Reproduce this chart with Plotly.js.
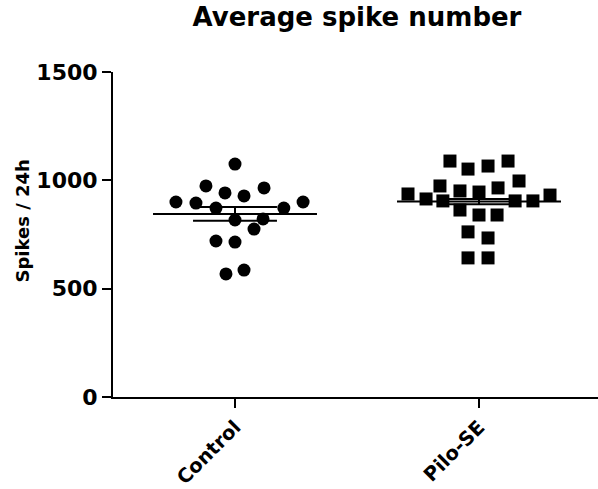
<!DOCTYPE html>
<html><head><meta charset="utf-8">
<script src="https://cdn.plot.ly/plotly-3.0.1.min.js"></script>
<style>html,body{margin:0;padding:0;background:#fff}</style>
</head><body><div id="chart" style="width:598px;height:489px"></div>
<script>
const categories = ["Control", "Pilo-SE"];
const controlValues = [1075, 974, 965, 942, 928, 900, 895, 900, 872, 872, 817, 822, 775, 720, 715, 568, 586];
const controlJitter = [0, -0.119, 0.119, -0.041, 0.037, -0.242, -0.16, 0.279, -0.078, 0.2, 0, 0.115, 0.078, -0.078, 0, -0.037, 0.037];
const piloValues = [1089, 1052, 1066, 1089, 997, 974, 951, 946, 965, 937, 914, 905, 905, 905, 932, 863, 840, 840, 762, 734, 642, 642];
const piloJitter = [-0.119, -0.045, 0.037, 0.119, 0.164, -0.16, -0.078, 0, 0.078, -0.291, -0.217, -0.148, 0.148, 0.221, 0.291, -0.078, 0, 0.074, -0.045, 0.037, -0.045, 0.037];
const meanValues = [845, 902];
const semValues = [32, 12];
const yTicks = [0, 500, 1000, 1500];
const yTitle = "Spikes / 24h";
const chartTitle = "Average spike number";

const MEAN_HALF = 0.336, SEM_HALF = 0.172;
const lx = [], ly = [];
categories.forEach((c, i) => {
  const m = meanValues[i], s = semValues[i];
  lx.push(i - MEAN_HALF, i + MEAN_HALF, null); ly.push(m, m, null);
  lx.push(i - SEM_HALF, i + SEM_HALF, null); ly.push(m + s, m + s, null);
  lx.push(i - SEM_HALF, i + SEM_HALF, null); ly.push(m - s, m - s, null);
  lx.push(i, i, null); ly.push(m - s, m + s, null);
});

const traces = [
  {type: 'scatter', mode: 'markers', x: controlJitter.map(j => 0 + j), y: controlValues,
   marker: {symbol: 'circle', size: 13, color: '#000'}, hoverinfo: 'y', showlegend: false},
  {type: 'scatter', mode: 'markers', x: piloJitter.map(j => 1 + j), y: piloValues,
   marker: {symbol: 'square', size: 13, color: '#000'}, hoverinfo: 'y', showlegend: false},
  {type: 'scatter', mode: 'lines', x: lx, y: ly, line: {color: '#000', width: 2},
   hoverinfo: 'skip', showlegend: false, connectgaps: false}
];

const FONT = 'DejaVu Sans, Arial, sans-serif';
const layout = {
  width: 598, height: 489,
  paper_bgcolor: '#fff', plot_bgcolor: '#fff',
  margin: {l: 113, r: 0, t: 72, b: 92},
  font: {family: FONT, color: '#000'},
  title: {text: '<b>' + chartTitle + '</b>', x: 0.597, xanchor: 'center', y: 0.965, yanchor: 'middle',
          xref: 'container', yref: 'container', font: {family: FONT, size: 26, color: '#000'}},
  xaxis: {range: [-0.5, 1.4877], tickmode: 'array', tickvals: [0, 1], ticktext: categories.map(c => '<b>' + c + '</b>'),
          tickangle: -45, ticks: 'outside', ticklen: 9, tickwidth: 2, tickcolor: '#000',
          showline: true, linewidth: 2, linecolor: '#000', showgrid: false, zeroline: false,
          tickfont: {family: FONT, size: 19.5, color: '#000'}, fixedrange: true, automargin: false},
  yaxis: {range: [0, 1500], tickmode: 'array', tickvals: yTicks, ticktext: yTicks.map(v => '<b>' + v + '</b>'),
          ticks: 'outside', ticklen: 9, tickwidth: 2, tickcolor: '#000',
          showline: true, linewidth: 2, linecolor: '#000', showgrid: false, zeroline: false,
          tickfont: {family: FONT, size: 22, color: '#000'}, fixedrange: true, automargin: false},
  annotations: [{
    text: '<b>' + yTitle + '</b>', textangle: -90, showarrow: false,
    xref: 'paper', yref: 'paper', x: -0.1876, y: 0.54, xanchor: 'center', yanchor: 'middle',
    font: {family: FONT, size: 18, color: '#000'}
  }]
};
Plotly.newPlot('chart', traces, layout, {displayModeBar: false, staticPlot: true});
</script></body></html>
